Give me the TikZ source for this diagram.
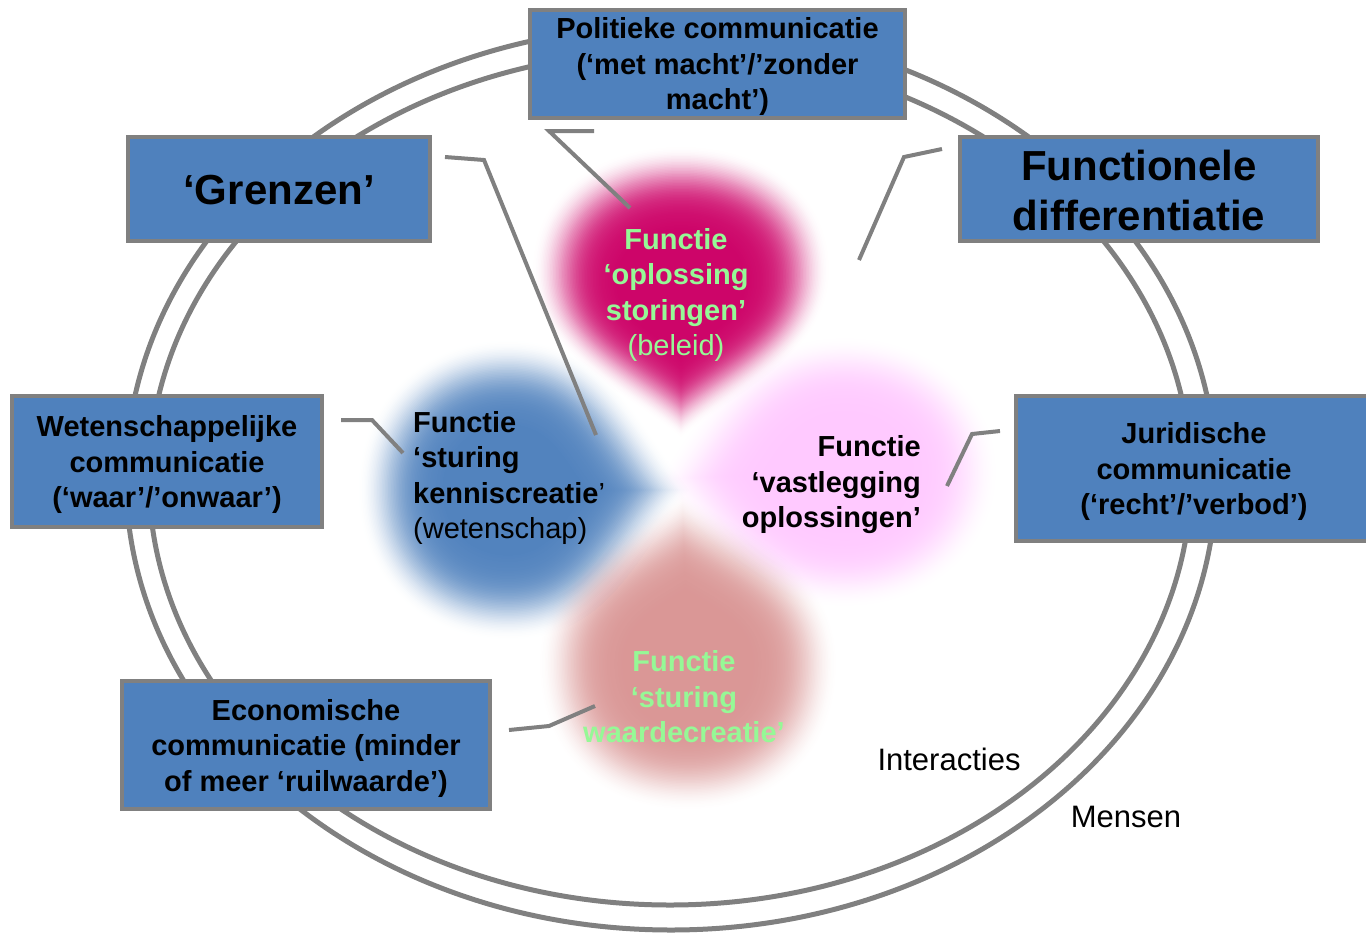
\documentclass[tikz,border=0pt]{standalone}
\usepackage{fontspec}
\setmainfont{Liberation Sans}
\definecolor{boxblue}{HTML}{4F81BD}
\definecolor{linegray}{HTML}{808080}
\definecolor{crim}{HTML}{CC0066}
\definecolor{bluec}{HTML}{4F81BD}
\definecolor{pinkc}{HTML}{FFC8FF}
\definecolor{rosec}{HTML}{D99594}
\definecolor{greentext}{RGB}{150,248,150}
\newcommand\blobfill[4]{% color, cx, cy, path (relative to centre)
  \foreach \s in {1.45,1.435,...,0.49}{%
    \pgfmathsetmacro\blobop{\s<=1 ? 0.09 : max(0.002,0.09*(1.45-\s)/0.45)}%
    \fill[#1, opacity=\blobop, shift={(#2,#3)}, scale=\s] #4;
  }%
}
\tikzset{
  box/.style={draw=linegray, line width=4pt, fill=boxblue, inner sep=0pt},
  boxtext/.style={align=center, inner sep=0pt, font=\fontsize{29}{35.5}\selectfont\bfseries, text=black},
  bigtext/.style={align=center, inner sep=0pt, font=\fontsize{42}{50}\selectfont\bfseries, text=black},
  ring/.style={draw=linegray, line width=5pt},
  conn/.style={draw=linegray, line width=4pt},
  ftext/.style={font=\fontsize{29}{35.5}\selectfont\bfseries, inner sep=0pt},
  plain/.style={font=\fontsize{31}{36}\selectfont, inner sep=0pt},
}
\begin{document}
\begin{tikzpicture}[x=1pt,y=-1pt]
\useasboundingbox (0,0) rectangle (1366,935);
% rings
\draw[ring] (671,478) ellipse [x radius=545, y radius=452];
\draw[ring] (670,478) ellipse [x radius=521, y radius=427];
% blobs
\blobfill{bluec}{508}{490}{(125,0) .. controls (88,48) and (68,103) .. (0,103) .. controls (-60,103) and (-103,60) .. (-103,0) .. controls (-103,-60) and (-60,-103) .. (0,-103) .. controls (68,-103) and (88,-48) .. (125,0) -- cycle}
\blobfill{crim}{681}{292}{(0,100) .. controls (-42,66) and (-102,42) .. (-102,-15) .. controls (-102,-70) and (-55,-100) .. (0,-100) .. controls (55,-100) and (102,-70) .. (102,-15) .. controls (102,42) and (42,66) .. (0,100) -- cycle}
\blobfill{pinkc}{845}{472}{(-130,5) .. controls (-98,-47) and (-67,-94) .. (0,-94) .. controls (62,-94) and (106,-52) .. (106,0) .. controls (106,52) and (62,94) .. (0,94) .. controls (-67,94) and (-98,52) .. (-130,5) -- cycle}
\blobfill{rosec}{688}{664}{(-4,-118) .. controls (46,-87) and (103,-64) .. (103,0) .. controls (103,62) and (62,101) .. (0,101) .. controls (-62,101) and (-103,62) .. (-103,0) .. controls (-103,-64) and (-52,-87) .. (-4,-118) -- cycle}
% boxes
\node[box, minimum width=375pt, minimum height=108pt] (pol) at (717.5,64) {};
\node[boxtext] (polt) at ([yshift=-2.5pt]pol.center) {Politieke communicatie\\(‘met macht’/’zonder\\macht’)};
\node[box, minimum width=302pt, minimum height=104pt] (gren) at (279,189) {};
\node[bigtext] (grent) at ([yshift=-1pt]gren.center) {‘Grenzen’};
\node[box, minimum width=358pt, minimum height=104pt] (fd) at (1139,189) {};
\node[bigtext] (fdt) at ([yshift=-1pt]fd.center) {Functionele\\differentiatie};
\node[box, minimum width=310pt, minimum height=131pt] (wet) at (167,461.5) {};
\node[boxtext] (wett) at ([yshift=-3pt]wet.center) {Wetenschappelijke\\communicatie\\(‘waar’/’onwaar’)};
\node[box, minimum width=352pt, minimum height=145pt] (jur) at (1192,468.5) {};
\node[boxtext] (jurt) at ([xshift=2pt,yshift=-3pt]jur.center) {Juridische\\communicatie\\(‘recht’/’verbod’)};
\node[box, minimum width=368pt, minimum height=128pt] (eco) at (306,745) {};
\node[boxtext] (ecot) at ([yshift=-3pt]eco.center) {Economische\\communicatie (minder\\of meer ‘ruilwaarde’)};
% petal texts
\node[ftext, align=center, text=greentext] (tpol) at (676,295) {Functie\\‘oplossing\\storingen’\\{\mdseries (beleid)}};
\node[ftext, align=left, anchor=west] (twet) at (413,478) {Functie\\‘sturing\\kenniscreatie{\mdseries ’}\\{\mdseries (wetenschap)}};
\node[ftext, align=right, anchor=east] (tjur) at (921,485) {Functie\\‘vastlegging\\oplossingen’};
\node[ftext, align=center, text=greentext] (teco) at (684,697) {Functie\\‘sturing\\waardecreatie’};
\node[plain] (inter) at (949,759) {Interacties};
\node[plain] (mens) at (1126,817) {Mensen};
% connectors
\coordinate (g1) at (445,157); \coordinate (g2) at (484,160); \coordinate (g3) at (596,435);
\draw[conn] (g1) -- (g2) -- (g3);
\coordinate (p1) at (594,131); \coordinate (p2) at (549,131); \coordinate (p3) at (630,208);
\draw[conn] (p1) -- (p2) -- (p3);
\coordinate (f1) at (942,149); \coordinate (f2) at (904,157); \coordinate (f3) at (859,260);
\draw[conn] (f1) -- (f2) -- (f3);
\coordinate (w1) at (341,420); \coordinate (w2) at (372,420); \coordinate (w3) at (403,453);
\draw[conn] (w1) -- (w2) -- (w3);
\coordinate (j1) at (1000,431); \coordinate (j2) at (972,434); \coordinate (j3) at (947,486);
\draw[conn] (j1) -- (j2) -- (j3);
\coordinate (e1) at (509,730); \coordinate (e2) at (549,726); \coordinate (e3) at (595,706);
\draw[conn] (e1) -- (e2) -- (e3);
\end{tikzpicture}
\end{document}
